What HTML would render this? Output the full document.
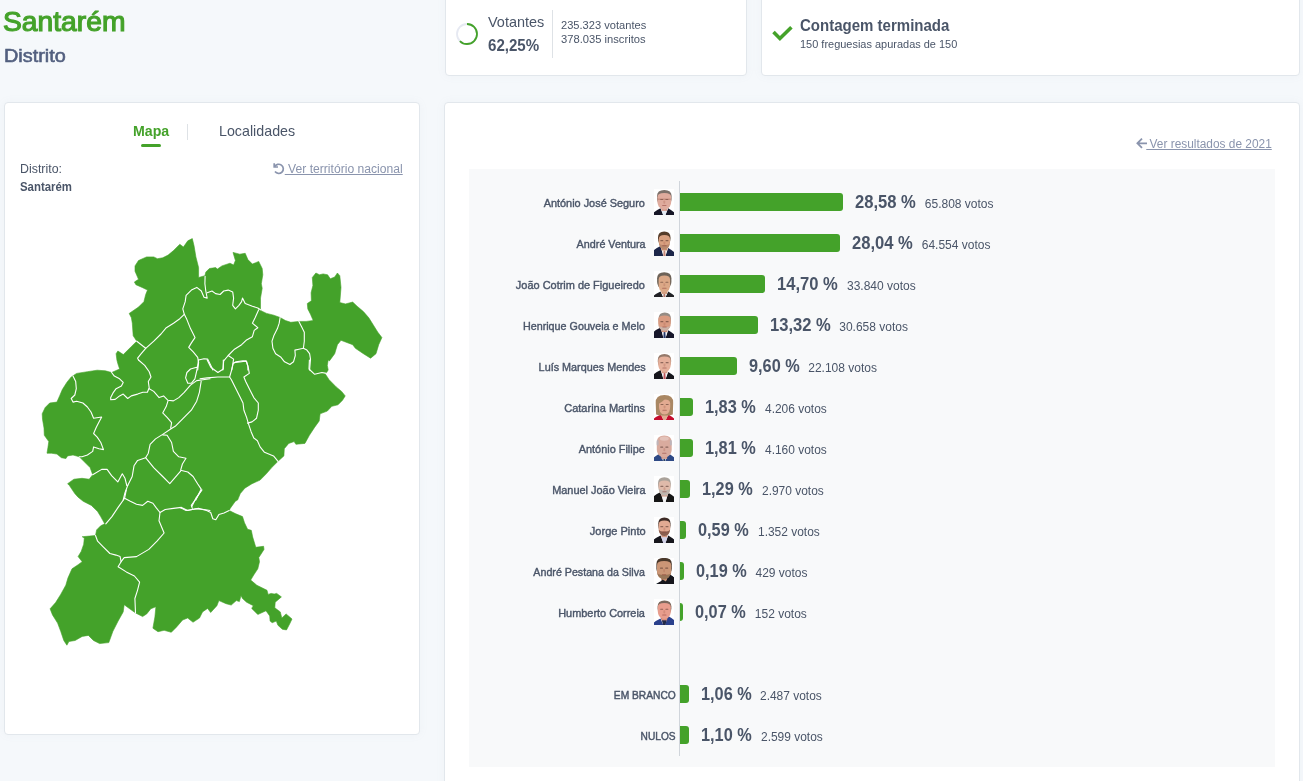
<!DOCTYPE html>
<html lang="pt"><head><meta charset="utf-8"><title>Santarém - Resultados</title>
<style>
html,body{margin:0;padding:0}
body{width:1303px;height:781px;overflow:hidden;position:relative;background:#f5f8fb;font-family:"Liberation Sans",sans-serif;}
.t{position:absolute;white-space:nowrap;display:inline-block}
.card{position:absolute;box-sizing:border-box;background:#fff;border:1px solid #e2e7ec;border-radius:4px;box-shadow:0 0 10px rgba(136,152,170,.06)}
.bar{position:absolute;left:680px;height:18px;background:#44a22a;border-radius:0 3px 3px 0}
</style></head><body>
<span class="t" style="top:3.94px;font-size:27.6px;line-height:36px;color:#44a22a;-webkit-text-stroke:1.15px #44a22a;left:2.80px;transform-origin:0 50%;transform:scaleX(1.0237);">Santarém</span>
<span class="t" style="top:43.79px;font-size:18.5px;line-height:24px;color:#525f7f;-webkit-text-stroke:0.6px #525f7f;left:3.80px;transform-origin:0 50%;transform:scaleX(1.0719);">Distrito</span>
<div class="card" style="left:445px;top:-20px;width:302px;height:96px"></div>
<div class="card" style="left:761px;top:-20px;width:539px;height:96px"></div>
<svg style="position:absolute;left:455px;top:22px" width="24" height="24" viewBox="0 0 24 24"><circle cx="12" cy="12" r="10" fill="none" stroke="#e6e9f2" stroke-width="1.8"/><circle cx="12" cy="12" r="10" fill="none" stroke="#44a22a" stroke-width="1.8" stroke-dasharray="39.1 62.83" transform="rotate(-90 12 12)"/></svg>
<span class="t" style="top:12.51px;font-size:14.4px;line-height:19px;color:#4a5568;left:488.00px;transform-origin:0 50%;transform:scaleX(1.0045);">Votantes</span>
<span class="t" style="top:35.69px;font-size:15.6px;line-height:20px;color:#4a5568;font-weight:700;left:488.00px;transform-origin:0 50%;transform:scaleX(0.9677);">62,25%</span>
<div style="position:absolute;left:552px;top:10px;width:1px;height:48px;background:#dee2e6"></div>
<span class="t" style="top:17.62px;font-size:11.2px;line-height:15px;color:#4a5568;left:561.00px;transform-origin:0 50%;transform:scaleX(0.9926);">235.323 votantes</span>
<span class="t" style="top:31.62px;font-size:11.2px;line-height:15px;color:#4a5568;left:561.00px;transform-origin:0 50%;">378.035 inscritos</span>
<svg style="position:absolute;left:772px;top:25px;overflow:visible" width="21" height="17" viewBox="0 0 21 17"><path d="M1.5 7.1 L7.9 13.5 L19.4 2.2" fill="none" stroke="#44a22a" stroke-width="3.6" stroke-linejoin="miter"/></svg>
<span class="t" style="top:15.16px;font-size:16px;line-height:21px;color:#4a5568;font-weight:700;left:800.00px;transform-origin:0 50%;transform:scaleX(0.9388);">Contagem terminada</span>
<span class="t" style="top:37.22px;font-size:11.2px;line-height:15px;color:#4a5568;left:800.00px;transform-origin:0 50%;transform:scaleX(0.9803);">150 freguesias apuradas de 150</span>
<div class="card" style="left:4px;top:102px;width:416px;height:633px"></div>
<span class="t" style="top:121.61px;font-size:14.4px;line-height:19px;color:#44a22a;font-weight:700;left:133.00px;transform-origin:0 50%;transform:scaleX(0.9834);">Mapa</span>
<div style="position:absolute;left:141px;top:144px;width:20px;height:3px;border-radius:2px;background:#44a22a"></div>
<div style="position:absolute;left:187px;top:124px;width:1px;height:16px;background:#dee2e6"></div>
<span class="t" style="top:121.61px;font-size:14.4px;line-height:19px;color:#4a5568;left:219.00px;transform-origin:0 50%;transform:scaleX(0.9914);">Localidades</span>
<span class="t" style="top:160.74px;font-size:12px;line-height:16px;color:#4a5568;left:20.00px;transform-origin:0 50%;transform:scaleX(1.0327);">Distrito:</span>
<span class="t" style="top:178.84px;font-size:12px;line-height:16px;color:#4a5568;font-weight:700;left:20.00px;transform-origin:0 50%;transform:scaleX(0.9508);">Santarém</span>
<svg style="position:absolute;left:272px;top:162px" width="13" height="13" viewBox="0 0 13 13"><path d="M2.2 1.2 L2.2 5 L6 5" fill="none" stroke="#8a94ad" stroke-width="1.7"/><path d="M2.6 4.8 A4.6 4.6 0 1 1 3 9.6" fill="none" stroke="#8a94ad" stroke-width="1.7"/></svg>
<span class="t" style="top:160.74px;font-size:12px;line-height:16px;color:#8a94ad;right:900.20px;transform-origin:100% 50%;transform:scaleX(1.0109);text-decoration:underline;">&nbsp;Ver território nacional</span>
<svg style="position:absolute;left:0;top:0" width="440" height="700" viewBox="0 0 440 700">
<path d="M116.1 353.7 L117.9 351 L123.3 354.6 L131.4 346.5 L136.8 341.2 L133.2 335.8 L132.3 323.2 L131.4 317.8 L129.2 313.4 L138.5 307.1 L143.9 301.7 L145.7 294.5 L147.5 290.1 L142.1 287.4 L135.9 284.7 L134.4 282 L138.5 279.3 L135 271.2 L135 265.9 L138.5 260.5 L146.6 256.9 L153.8 256.9 L157.4 258.7 L162.7 257.8 L168.1 255.1 L173.5 250.6 L179.8 244.3 L183.4 247 L187.8 240.8 L192.3 238.6 L194.1 246.1 L195.9 256.9 L198.6 267.6 L198.6 277.5 L204.9 275.7 L205.8 272.1 L209.4 268.5 L215.6 267.6 L217.4 269.1 L221.9 265.9 L230 263.2 L233.6 265 L235.4 260.5 L233 252.4 L239.8 254.2 L245.2 253.3 L247.9 259.6 L252.4 264.1 L258.7 261.4 L262.2 268.5 L262.8 274.8 L261.3 283.8 L262.2 288.3 L260.5 298.1 L260.5 308.9 L260.9 310.7 L266.6 313.4 L273.8 315.2 L280.1 317.5 L285.4 320.5 L290.8 322.3 L298.9 321.4 L306.1 321.4 L313.2 320.5 L310.5 314.3 L307.8 308.9 L307.3 303.5 L311.4 300.8 L311.1 292.7 L312.9 285.6 L312.3 277.5 L315.9 273 L319.5 274.8 L323.1 273.9 L327.6 274.8 L330.3 278.8 L334.7 277 L337.4 273 L339.8 275.7 L341 287.4 L339.8 302.6 L345.5 303.9 L352.7 302.1 L357.1 306.2 L363.4 311.6 L368.8 317.8 L373.3 325 L377.8 332.2 L381.9 337.6 L378.7 344.7 L376 353.7 L370.6 358.2 L363.4 353.7 L355.4 348.3 L352.7 344.7 L345.5 342 L341 340.3 L337.4 344.7 L334.7 353.7 L329.4 360.9 L328.2 360 L327.3 365.4 L328.2 369.9 L325.5 374.3 L329.1 379.7 L336.2 386.9 L341.6 391.4 L345.2 395.9 L342.5 400.3 L338 404.8 L331.8 406.3 L327.3 411.1 L320.1 413.8 L319.2 421 L314.7 427.2 L309.4 435.3 L304.9 443.4 L295.9 444.3 L294.1 441.6 L288.7 443.4 L284.3 448.7 L283.9 455.9 L278 461.3 L271.7 467.6 L266.3 473.8 L260.1 480.1 L252 483.7 L244.8 488.2 L240.3 493.6 L237.6 500 L235.3 501.3 L230.2 508.4 L229.2 510.5 L235.3 513.6 L242.5 516.6 L244.5 522.8 L247.6 529.3 L251.3 530.3 L252.7 537.1 L255.8 547.3 L263.6 546.3 L264 549.4 L258.8 557.6 L259.5 561.7 L257.8 568.8 L253.7 575 L250.7 580.1 L256.8 585.2 L267 590.3 L268.1 594.4 L271.1 593.4 L274.2 594 L276.7 593.4 L281.4 596.9 L275.2 602.2 L274.8 607.8 L280.3 611.9 L281.8 618 L286.1 613.9 L292 619 L289.6 624.1 L286.5 629.9 L282.4 629.3 L277.9 625.2 L276.3 621.1 L272.2 622.7 L270.1 621.1 L269.7 615.9 L266 610.8 L257.8 614.5 L251.7 608.4 L253.3 605.7 L246.6 602.2 L242.5 598.5 L241 595.5 L239.4 601.6 L236.3 600.6 L231.2 605.1 L226.1 603.7 L218.9 600.6 L216.9 605.7 L210.7 612.5 L207.6 608.4 L202.5 611.9 L199.5 618 L193.3 622.1 L192.8 622.1 L187.7 618 L182.6 620 L176.4 627.2 L171.3 632.3 L164.1 630.3 L158 631.7 L152.9 628.2 L154.9 617 L155.9 606.7 L150.8 608.8 L146.7 613.9 L142.6 616.6 L135.5 612.9 L128.3 607.8 L124.2 604.7 L123.2 611.9 L118.1 621.1 L112.9 631.3 L108.8 642.6 L99.6 643.6 L93.5 640.5 L88.4 635.4 L82.2 636.4 L75.1 640.5 L68.9 641.5 L66.9 645.2 L63.8 640.5 L60.7 631.3 L57.6 623.1 L52.5 614.9 L50.1 608.8 L55.6 602.6 L60.7 594.4 L65.8 585.2 L67.9 578.1 L72 568.8 L78.1 564.7 L82.2 561.7 L78.1 556.6 L81.2 551.4 L83.7 544.3 L84.3 538.1 L82.2 536.7 L89.4 536.1 L95.5 535.5 L96.6 529.9 L100.7 525.8 L104.7 523.8 L100.7 516.6 L97.6 511.5 L91.4 505.4 L83.2 501.3 L78.1 497.2 L74.8 493.6 L69.4 485.5 L67.6 483.7 L73.9 479.2 L82 478.3 L89.2 479.2 L92.7 474.7 L90.1 467.6 L83.8 461.3 L79.3 456.8 L73 455 L67.6 455.9 L65.9 458.6 L61.4 457.7 L56.9 454.1 L51.5 453.2 L47 453.2 L47.9 447.8 L48.8 441.6 L44.3 435.3 L44 428.1 L42.5 419.2 L42.2 413.8 L45.2 407.5 L49.7 403 L56.9 402.1 L59.6 395.9 L62.3 389.6 L66.8 382.4 L71.2 377 L76.6 373.4 L87.4 371.7 L97.2 370.2 L105.3 370.8 L111.6 372.5 L119.6 369 L117.8 363.6 L116.9 360 Z" fill="#44a22a" stroke="#44a22a" stroke-width="0.6" stroke-linejoin="round"/>
<g fill="none" stroke="#fff" stroke-width="1.1" stroke-linejoin="round" stroke-linecap="round">
<path d="M136.8 341.2 L145.7 348.3 L153.8 341.2 L161 334 L166.3 327.7 L173.5 323.2 L179.8 318.7 L184.3 314.3 L182.8 308.9 L185.2 301.7 L186.1 295.4 L191.4 290.1 L196.8 287.4 L201.3 291 L204 297.2 L207.2 298.1 L205.8 291 L204.9 283.8 L205.1 276.3"/>
<path d="M145.7 348.3 L141.2 353.7 L137.6 358.2 L138.5 360"/>
<path d="M207.2 292.7 L212 291 L215.6 293.6 L220.1 294.5 L223.7 291 L228.2 290.1 L232.7 291.9 L233.6 298.1 L232.7 305.3 L235.4 308.9 L238.9 305.3 L241.6 301.7 L242.5 298.1 L245.2 303.5 L252.4 306.2 L257.8 308 L260.5 309.8"/>
<path d="M258.7 309.8 L255.1 317.8 L252.4 323.2 L257.8 327.7 L254.2 330.4 L252.4 336.7 L246.1 340.3 L241.6 344.7 L234.5 349.2 L228.2 355.5 L223.7 360.9 L222.8 370"/>
<path d="M184.3 314.3 L186.9 319.6 L190.5 328.6 L195 337.6 L191.4 342.9 L188.7 347.4 L193.2 351.9 L197.7 357.3 L198.6 362.7 L197.7 370"/>
<path d="M198.6 360 L204 358.7 L207.6 359.1 L211.2 366.2 L212.9 370"/>
<path d="M228.2 355.5 L233.6 359.1 L232.7 364.5 L231.8 370"/>
<path d="M233.6 362.7 L241.6 361.8 L246.1 360.9 L247.9 366.2 L247.9 370"/>
<path d="M280.1 317.5 L279.2 323.2 L277.4 328.6 L273.8 335.8 L272 341.2 L272.9 348.3 L275.6 353.7 L281 357.3 L284.5 361.8 L289.9 364.5 L293.5 361.8 L295.3 355.5 L294.9 350.1 L298.9 349.2 L303.4 348.3"/>
<path d="M298.9 321.4 L301.6 326.8 L304.3 332.2 L304.3 341.2 L303.4 348.3 L306.9 350.1 L309.6 353.7 L310.5 359.1 L309.6 370"/>
<path d="M73 376.1 L75.7 381.5 L76.3 388.7 L74.8 395 L71.2 398.5 L73 402.1 L76.6 401.2 L82.9 403 L87.4 407 L91 412 L93.6 418.3 L101.7 417 L99 421.9 L96.3 427.2 L93.6 433.5 L97.2 437.1 L100.8 442.5 L103.5 449.6 L99 448.7 L93.6 446.9 L92.7 451.4 L87.4 455 L82 456.8 L79.3 456.8"/>
<path d="M111.6 372.5 L114.3 376.1 L119.6 378.8 L123.2 382.4 L121.4 386 L116.1 388.7 L113.4 392.3 L110.7 397.6 L110.7 399.8 L115.2 399.4 L119.6 395.9 L123.2 394.1 L127.7 398.5 L131.3 395.9 L137.6 394.1 L142.9 392.3 L147.4 392.3 L149.2 387.8 L148.3 381.5 L151 377 L149.2 371.7 L144.7 365.4 L138.5 360"/>
<path d="M149.2 388.7 L153.7 391.4 L159.1 397.6 L163.6 395.9 L168 400.3 L173.4 400.9 L178.8 397.6 L184.2 392.3 L190.5 385.1 L196.7 380.6 L203 379.7 L210 378.8"/>
<path d="M168 400.9 L166.2 406.6 L162.7 412.9 L167.1 417.4 L171.6 422.7 L170.7 428.1"/>
<path d="M201.2 381.2 L199.4 392.3 L196.7 401.2 L191.3 410.2 L182.4 419.2 L175.2 426.3 L170.7 429 L162.7 434.4 L155.5 438.9 L150.1 444.3 L148.3 453.2 L145.6 457.7 L137.6 460.4 L134 465.8 L132.2 476.5 L127.7 485.5 L125 492.7 L123.2 500"/>
<path d="M196.7 367.2 L190.5 369 L186.9 372.5 L185.6 377.9 L187.8 383.3 L191.3 383.3 L194.9 378.8 L196.7 370.8 L197.6 366.3 L198.5 360"/>
<path d="M162.7 434.9 L167.1 435.3 L171.6 442.5 L173.4 451.4 L178.8 456.8 L186 458.2 L182.4 464 L180.6 470.3 L187.8 472 L193.1 476.5 L197.6 483.7 L201.2 489.1 L198.5 494.5 L195.8 500"/>
<path d="M145.6 457.7 L153.7 467.6 L162.7 476.5 L169.8 483.7 L175.2 477.4 L180.6 471.2"/>
<path d="M92.7 474.7 L101.7 469.4 L107.1 469.4 L111.6 475.6 L117.8 481.9 L122.3 473.8 L125 478.3 L126.8 485.5 L127.7 485.5"/>
<path d="M200 378.8 L207.2 377.9 L217.9 377 L229.6 377 L231.4 379.7 L235.9 388.7 L240.3 397.6 L243 403 L243.9 410.2 L246.6 417.4 L248.4 423.6 L251.1 431.7 L253.8 438 L257.4 440.7 L260.1 446.9 L264.5 452.3 L273.5 455.9 L278 461.3"/>
<path d="M229.6 377 L231.4 370.8 L233.2 363.6 L235.9 361.8 L243 360.9 L246.6 361.4 L248.4 368.1 L249.3 373.4 L243.9 377 L245.7 381.5 L250.2 390.5 L253.8 397.6 L258.3 403 L258.3 410.2 L256.5 418.3 L252 421.9 L247.5 423.1"/>
<path d="M207.2 360 L210.8 367.2 L217.9 372.5 L223.3 369 L223.3 360"/>
<path d="M309.4 360 L309 369 L314.7 374.3 L321.9 372.5 L326.4 373.4"/>
<path d="M126.3 490 L124.6 498.2 L118.1 507.4 L111.9 516.6 L105.8 523.8"/>
<path d="M124.6 498.2 L130.3 501.3 L136.5 504.3 L142.6 505.4 L147.8 501.3 L152.9 503.3 L155.9 507.4 L160 512.5 L165.2 509.5 L173.4 508.4 L181.5 507.4 L187.7 510.5 L195.9 508.8 L204.1 509.5 L210 510.5"/>
<path d="M160 512.5 L159 520.7 L164.1 533 L157 541.2 L148.8 549.4 L136.5 556.6 L124.2 557.6 L121.1 561.7 L118.1 566.8 L126.3 571.9 L134.4 576 L139.6 582.2 L137.5 590.3 L134.9 598.5 L135.5 612.9"/>
<path d="M95.5 535.5 L97.6 541.2 L102.7 546.3 L109.9 553.5 L116 555.1 L120.1 556.6 L121.1 561.7"/>
<path d="M191.8 506.4 L195.9 498.2 L202 490"/>
<path d="M180 507.4 L186.1 510.5 L192.3 509.5 L198.4 508.4 L206.6 510.5 L210.7 512.5 L212.8 518.7 L215.8 519.7 L218.9 514.6 L224 512.9 L229.2 510.5"/>
<path d="M201.5 490 L196.4 498.2 L191.3 505.4 L192.3 508.4"/>
</g></svg>
<svg width="0" height="0" style="position:absolute"><defs><filter id="pb" x="-10%" y="-10%" width="120%" height="120%"><feGaussianBlur stdDeviation="0.55"/></filter></defs></svg>
<div class="card" style="left:444px;top:102px;width:856px;height:720px"></div>
<div style="position:absolute;left:469px;top:169px;width:806px;height:598px;background:#f8f9fa"></div>
<span class="t" style="top:135.54px;font-size:12px;line-height:16px;color:#8a94ad;right:31.00px;transform-origin:100% 50%;transform:scaleX(0.9901);text-decoration:underline;">&nbsp;Ver resultados de 2021</span>
<svg style="position:absolute;left:1136px;top:138px" width="12" height="11" viewBox="0 0 12 11"><path d="M11 5.3 H1.8 M6 0.7 L1.4 5.3 L6 9.9" fill="none" stroke="#8a94ad" stroke-width="1.8"/></svg>
<div style="position:absolute;left:679px;top:181px;width:1px;height:575px;background:#d0d5db"></div>
<div class="bar" style="top:193px;width:163.1px"></div>
<span class="t" style="top:191.00px;font-size:17.6px;line-height:23px;color:#4a5568;font-weight:700;left:855.15px;transform-origin:0 50%;transform:scaleX(0.9420);">28,58 %</span>
<span class="t" style="top:195.54px;font-size:12px;line-height:16px;color:#4a5568;left:924.79px;transform-origin:0 50%;">65.808 votos</span>
<span class="t" style="top:195.62px;font-size:11.2px;line-height:15px;color:#4a5568;-webkit-text-stroke:0.4px #4a5568;right:657.80px;transform-origin:100% 50%;transform:scaleX(0.9742);">António José Seguro</span>
<svg style="position:absolute;left:654px;top:189px;overflow:hidden" width="20" height="26" viewBox="0 0 20 26"><rect width="20" height="26" fill="#fff"/><g filter="url(#pb)"><path d="M-1 27 L-1 24.0 Q2.5 21.0 6.499999999999999 19.200000000000003 L9.7 27 L10.899999999999999 27 L14.099999999999998 19.200000000000003 Q17.5 21.0 21 24.0 L21 27 Z" fill="#141626"/><path d="M6.699999999999999 19.400000000000002 L13.899999999999999 19.400000000000002 L11.2 27 L9.399999999999999 27 Z" fill="#e4ebf4"/><rect x="7.499999999999999" y="16.1" width="5.6" height="5.8" fill="#dfab9d"/><rect x="7.499999999999999" y="19.8" width="5.6" height="1.6" fill="#b06a55" opacity=".35"/><path d="M3.0 7.0 Q3.0 1.0 10.3 1.0 Q17.6 1.0 17.6 7.0 L17.6 10.100000000000001 Q17.3 15.100000000000001 12.9 17.200000000000003 Q10.3 18.1 7.700000000000001 17.200000000000003 Q3.3 15.100000000000001 3.0 10.100000000000001 Z" fill="#7b6f69"/><path d="M3.4 8.2 Q3.4 4.0 10.299999999999999 4.0 Q17.2 4.0 17.2 8.2 L17.2 13.100000000000001 Q16.9 18.1 12.899999999999999 20.200000000000003 Q10.299999999999999 21.1 7.699999999999999 20.200000000000003 Q3.6999999999999997 18.1 3.4 13.100000000000001 Z" fill="#dfab9d"/><rect x="6.199999999999999" y="9.975999999999999" width="3.0" height="1.1" rx=".5" fill="#4a2e26" opacity=".55"/><rect x="11.399999999999999" y="9.975999999999999" width="3.0" height="1.1" rx=".5" fill="#4a2e26" opacity=".55"/><rect x="9.399999999999999" y="11.475999999999999" width="1.8" height="3.2" rx=".8" fill="#b06a55" opacity=".35"/><rect x="8.099999999999998" y="15.952" width="4.4" height="1.0" rx=".5" fill="#8a3a34" opacity=".5"/><path d="M3.6999999999999997 10.175999999999998 H16.9" stroke="#9a5a48" stroke-width=".7" opacity=".7" fill="none"/></g></svg>
<div class="bar" style="top:234px;width:160.1px"></div>
<span class="t" style="top:232.00px;font-size:17.6px;line-height:23px;color:#4a5568;font-weight:700;left:852.12px;transform-origin:0 50%;transform:scaleX(0.9420);">28,04 %</span>
<span class="t" style="top:236.54px;font-size:12px;line-height:16px;color:#4a5568;left:921.76px;transform-origin:0 50%;">64.554 votos</span>
<span class="t" style="top:236.62px;font-size:11.2px;line-height:15px;color:#4a5568;-webkit-text-stroke:0.4px #4a5568;right:657.80px;transform-origin:100% 50%;transform:scaleX(0.9635);">André Ventura</span>
<svg style="position:absolute;left:654px;top:230px;overflow:hidden" width="20" height="26" viewBox="0 0 20 26"><rect width="20" height="26" fill="#fff"/><g filter="url(#pb)"><path d="M-1 27 L-1 20.799999999999997 Q2.5 17.799999999999997 6.6000000000000005 15.999999999999998 L9.8 27 L11.0 27 L14.2 18.0 Q17.5 19.799999999999997 21 22.799999999999997 L21 27 Z" fill="#1f2548"/><path d="M6.800000000000001 16.2 L14.0 16.2 L11.3 27 L9.5 27 Z" fill="#f6f3f0"/><path d="M9.6 20.4 L11.200000000000001 20.4 L11.700000000000001 27 L9.3 27 Z" fill="#c98a7a"/><rect x="7.6000000000000005" y="14.7" width="5.6" height="5.8" fill="#d9a07f"/><rect x="7.6000000000000005" y="18.4" width="5.6" height="1.6" fill="#b06a55" opacity=".35"/><path d="M4.0 7.5 Q4.0 1.5 10.25 1.5 Q16.5 1.5 16.5 7.5 L16.5 8.7 Q16.2 13.7 12.85 15.799999999999999 Q10.25 16.7 7.65 15.799999999999999 Q4.3 13.7 4.0 8.7 Z" fill="#573d2b"/><path d="M4.8 9.100000000000001 Q4.8 4.9 10.4 4.9 Q16.0 4.9 16.0 9.100000000000001 L16.0 11.7 Q15.7 16.7 13.0 18.8 Q10.4 19.7 7.800000000000001 18.8 Q5.1 16.7 4.8 11.7 Z" fill="#d9a07f"/><path d="M4.8 13.1 L6.4 14.6 Q10.4 15.799999999999999 14.4 14.6 L16.0 13.1 L16.0 11.7 Q15.7 16.7 13.0 18.8 Q10.4 19.7 7.800000000000001 18.8 Q5.1 16.7 4.8 11.7 Z" fill="#b98a6e"/><rect x="6.300000000000001" y="10.048" width="3.0" height="1.1" rx=".5" fill="#4a2e26" opacity=".55"/><rect x="11.5" y="10.048" width="3.0" height="1.1" rx=".5" fill="#4a2e26" opacity=".55"/><rect x="9.5" y="11.548" width="1.8" height="3.2" rx=".8" fill="#b06a55" opacity=".35"/><rect x="8.2" y="15.196" width="4.4" height="1.0" rx=".5" fill="#8a3a34" opacity=".5"/></g></svg>
<div class="bar" style="top:275px;width:85.3px"></div>
<span class="t" style="top:273.00px;font-size:17.6px;line-height:23px;color:#4a5568;font-weight:700;left:777.32px;transform-origin:0 50%;transform:scaleX(0.9420);">14,70 %</span>
<span class="t" style="top:277.54px;font-size:12px;line-height:16px;color:#4a5568;left:846.96px;transform-origin:0 50%;">33.840 votos</span>
<span class="t" style="top:277.62px;font-size:11.2px;line-height:15px;color:#4a5568;-webkit-text-stroke:0.4px #4a5568;right:657.80px;transform-origin:100% 50%;transform:scaleX(0.9782);">João Cotrim de Figueiredo</span>
<svg style="position:absolute;left:654px;top:271px;overflow:hidden" width="20" height="26" viewBox="0 0 20 26"><rect width="20" height="26" fill="#fff"/><g filter="url(#pb)"><path d="M-1 27 L-1 25.2 Q2.5 22.2 6.550000000000002 20.400000000000002 L9.750000000000002 27 L10.950000000000001 27 L14.150000000000002 20.400000000000002 Q17.5 22.2 21 25.2 L21 27 Z" fill="#202327"/><path d="M6.750000000000002 20.6 L13.950000000000001 20.6 L11.250000000000002 27 L9.450000000000001 27 Z" fill="#f5f5f3"/><path d="M9.55 22.8 L11.150000000000002 22.8 L11.650000000000002 27 L9.250000000000002 27 Z" fill="#b5786a"/><rect x="7.550000000000002" y="17.1" width="5.6" height="5.8" fill="#dba887"/><rect x="7.550000000000002" y="20.8" width="5.6" height="1.6" fill="#b06a55" opacity=".35"/><path d="M3.1 7.3 Q3.1 1.3 10.25 1.3 Q17.4 1.3 17.4 7.3 L17.4 11.100000000000001 Q17.099999999999998 16.1 12.85 18.200000000000003 Q10.25 19.1 7.65 18.200000000000003 Q3.4 16.1 3.1 11.100000000000001 Z" fill="#6e6459"/><path d="M4.6 8.7 Q4.6 4.5 10.350000000000001 4.5 Q16.1 4.5 16.1 8.7 L16.1 14.100000000000001 Q15.8 19.1 12.950000000000001 21.200000000000003 Q10.350000000000001 22.1 7.750000000000002 21.200000000000003 Q4.8999999999999995 19.1 4.6 14.100000000000001 Z" fill="#dba887"/><rect x="6.250000000000002" y="10.656" width="3.0" height="1.1" rx=".5" fill="#4a2e26" opacity=".55"/><rect x="11.450000000000001" y="10.656" width="3.0" height="1.1" rx=".5" fill="#4a2e26" opacity=".55"/><rect x="9.450000000000001" y="12.156" width="1.8" height="3.2" rx=".8" fill="#b06a55" opacity=".35"/><rect x="8.150000000000002" y="16.812" width="4.4" height="1.0" rx=".5" fill="#8a3a34" opacity=".5"/></g></svg>
<div class="bar" style="top:316px;width:77.6px"></div>
<span class="t" style="top:314.00px;font-size:17.6px;line-height:23px;color:#4a5568;font-weight:700;left:769.59px;transform-origin:0 50%;transform:scaleX(0.9420);">13,32 %</span>
<span class="t" style="top:318.54px;font-size:12px;line-height:16px;color:#4a5568;left:839.22px;transform-origin:0 50%;">30.658 votos</span>
<span class="t" style="top:318.62px;font-size:11.2px;line-height:15px;color:#4a5568;-webkit-text-stroke:0.4px #4a5568;right:657.80px;transform-origin:100% 50%;transform:scaleX(0.9613);">Henrique Gouveia e Melo</span>
<svg style="position:absolute;left:654px;top:312px;overflow:hidden" width="20" height="26" viewBox="0 0 20 26"><rect width="20" height="26" fill="#fff"/><g filter="url(#pb)"><path d="M-1 27 L-1 20.4 Q2.5 17.4 6.7 15.6 L9.9 27 L11.1 27 L14.3 18.200000000000003 Q17.5 20.0 21 23.0 L21 27 Z" fill="#15172a"/><path d="M6.9 15.8 L14.1 15.8 L11.4 27 L9.6 27 Z" fill="#f4f5f9"/><path d="M9.7 20.0 L11.3 20.0 L11.8 27 L9.4 27 Z" fill="#27386b"/><rect x="7.7" y="14.3" width="5.6" height="5.8" fill="#d99b81"/><rect x="7.7" y="18.0" width="5.6" height="1.6" fill="#b06a55" opacity=".35"/><path d="M4.6 6.4 Q4.6 0.4 10.75 0.4 Q16.9 0.4 16.9 6.4 L16.9 8.3 Q16.599999999999998 13.3 13.35 15.4 Q10.75 16.3 8.15 15.4 Q4.8999999999999995 13.3 4.6 8.3 Z" fill="#958c85"/><path d="M4.2 7.800000000000001 Q4.2 3.6 10.5 3.6 Q16.8 3.6 16.8 7.800000000000001 L16.8 11.3 Q16.5 16.3 13.1 18.400000000000002 Q10.5 19.3 7.9 18.400000000000002 Q4.5 16.3 4.2 11.3 Z" fill="#d99b81"/><path d="M4.2 13.1 L5.800000000000001 14.6 Q10.5 15.799999999999999 15.200000000000001 14.6 L16.8 13.1 L16.8 11.3 Q16.5 16.3 13.1 18.400000000000002 Q10.5 19.3 7.9 18.400000000000002 Q4.5 16.3 4.2 11.3 Z" fill="#cbb2a6"/><rect x="6.4" y="9.072000000000001" width="3.0" height="1.1" rx=".5" fill="#4a2e26" opacity=".55"/><rect x="11.6" y="9.072000000000001" width="3.0" height="1.1" rx=".5" fill="#4a2e26" opacity=".55"/><rect x="9.6" y="10.572000000000001" width="1.8" height="3.2" rx=".8" fill="#b06a55" opacity=".35"/><rect x="8.3" y="14.544" width="4.4" height="1.0" rx=".5" fill="#8a3a34" opacity=".5"/></g></svg>
<div class="bar" style="top:357px;width:56.7px"></div>
<span class="t" style="top:355.00px;font-size:17.6px;line-height:23px;color:#4a5568;font-weight:700;left:748.73px;transform-origin:0 50%;transform:scaleX(0.9261);">9,60 %</span>
<span class="t" style="top:359.54px;font-size:12px;line-height:16px;color:#4a5568;left:808.27px;transform-origin:0 50%;">22.108 votos</span>
<span class="t" style="top:359.62px;font-size:11.2px;line-height:15px;color:#4a5568;-webkit-text-stroke:0.4px #4a5568;right:657.80px;transform-origin:100% 50%;transform:scaleX(0.9674);">Luís Marques Mendes</span>
<svg style="position:absolute;left:654px;top:353px;overflow:hidden" width="20" height="26" viewBox="0 0 20 26"><rect width="20" height="26" fill="#fff"/><g filter="url(#pb)"><path d="M-1 27 L-1 21.799999999999997 Q2.5 18.799999999999997 6.7 17.0 L9.9 27 L11.1 27 L14.3 19.0 Q17.5 20.799999999999997 21 23.799999999999997 L21 27 Z" fill="#14161b"/><path d="M6.9 17.2 L14.1 17.2 L11.4 27 L9.6 27 Z" fill="#f5f5f5"/><path d="M9.7 20.099999999999998 L11.3 20.099999999999998 L11.8 27 L9.4 27 Z" fill="#c0545a"/><rect x="7.7" y="14.399999999999999" width="5.6" height="5.8" fill="#e5b09b"/><rect x="7.7" y="18.099999999999998" width="5.6" height="1.6" fill="#b06a55" opacity=".35"/><path d="M3.8 7.1 Q3.8 1.1 10.450000000000001 1.1 Q17.1 1.1 17.1 7.1 L17.1 8.399999999999999 Q16.8 13.399999999999999 13.05 15.499999999999998 Q10.450000000000001 16.4 7.850000000000001 15.499999999999998 Q4.1 13.399999999999999 3.8 8.399999999999999 Z" fill="#94796a"/><path d="M4.2 7.7 Q4.2 3.5 10.5 3.5 Q16.8 3.5 16.8 7.7 L16.8 11.399999999999999 Q16.5 16.4 13.1 18.5 Q10.5 19.4 7.9 18.5 Q4.5 16.4 4.2 11.399999999999999 Z" fill="#e5b09b"/><rect x="6.4" y="9.043999999999999" width="3.0" height="1.1" rx=".5" fill="#4a2e26" opacity=".55"/><rect x="11.6" y="9.043999999999999" width="3.0" height="1.1" rx=".5" fill="#4a2e26" opacity=".55"/><rect x="9.6" y="10.543999999999999" width="1.8" height="3.2" rx=".8" fill="#b06a55" opacity=".35"/><rect x="8.3" y="14.587999999999997" width="4.4" height="1.0" rx=".5" fill="#8a3a34" opacity=".5"/></g></svg>
<div class="bar" style="top:398px;width:13.2px"></div>
<span class="t" style="top:396.00px;font-size:17.6px;line-height:23px;color:#4a5568;font-weight:700;left:705.16px;transform-origin:0 50%;transform:scaleX(0.9261);">1,83 %</span>
<span class="t" style="top:400.54px;font-size:12px;line-height:16px;color:#4a5568;left:764.70px;transform-origin:0 50%;transform:scaleX(0.9959);">4.206 votos</span>
<span class="t" style="top:400.62px;font-size:11.2px;line-height:15px;color:#4a5568;-webkit-text-stroke:0.4px #4a5568;right:657.80px;transform-origin:100% 50%;transform:scaleX(0.9858);">Catarina Martins</span>
<svg style="position:absolute;left:654px;top:394px;overflow:hidden" width="20" height="26" viewBox="0 0 20 26"><rect width="20" height="26" fill="#fff"/><g filter="url(#pb)"><path d="M-1 27 L-1 25.2 Q2.5 22.2 6.8 20.400000000000002 L10.0 27 L11.2 27 L14.399999999999999 20.400000000000002 Q17.5 22.2 21 25.2 L21 27 Z" fill="#c60f2e"/><path d="M7.0 20.6 L14.2 20.6 L11.5 27 L9.7 27 Z" fill="#e2aa91"/><rect x="7.8" y="15.899999999999999" width="5.6" height="5.8" fill="#e2aa91"/><rect x="7.8" y="19.599999999999998" width="5.6" height="1.6" fill="#b06a55" opacity=".35"/><path d="M1.7 9.0 Q1.4 1.0 10.45 1.0 Q19.5 1.0 19.2 9.0 L18.8 20.599999999999998 L15.2 21.4 L5.7 21.4 L2.1 20.599999999999998 Z" fill="#a98763"/><path d="M5.0 9.5 Q5.0 5.5 10.6 5.5 Q16.2 5.5 16.2 9.5 L16.2 12.899999999999999 Q15.899999999999999 17.9 13.2 20.0 Q10.6 20.9 8.0 20.0 Q5.3 17.9 5.0 12.899999999999999 Z" fill="#e2aa91"/><path d="M4.5 10.0 Q5.0 3.5 12.6 3.2 Q9.6 7.0 4.5 10.0 Z" fill="#a98763"/><rect x="6.5" y="9.904" width="3.0" height="1.1" rx=".5" fill="#4a2e26" opacity=".55"/><rect x="11.7" y="9.904" width="3.0" height="1.1" rx=".5" fill="#4a2e26" opacity=".55"/><rect x="9.7" y="11.404" width="1.8" height="3.2" rx=".8" fill="#b06a55" opacity=".35"/><rect x="8.399999999999999" y="15.807999999999998" width="4.4" height="1.0" rx=".5" fill="#8a3a34" opacity=".5"/></g></svg>
<div class="bar" style="top:439px;width:13.0px"></div>
<span class="t" style="top:437.00px;font-size:17.6px;line-height:23px;color:#4a5568;font-weight:700;left:705.05px;transform-origin:0 50%;transform:scaleX(0.9261);">1,81 %</span>
<span class="t" style="top:441.54px;font-size:12px;line-height:16px;color:#4a5568;left:764.59px;transform-origin:0 50%;transform:scaleX(0.9959);">4.160 votos</span>
<span class="t" style="top:441.62px;font-size:11.2px;line-height:15px;color:#4a5568;-webkit-text-stroke:0.4px #4a5568;right:657.80px;transform-origin:100% 50%;transform:scaleX(0.9740);">António Filipe</span>
<svg style="position:absolute;left:654px;top:435px;overflow:hidden" width="20" height="26" viewBox="0 0 20 26"><rect width="20" height="26" fill="#fff"/><g filter="url(#pb)"><path d="M-1 27 L-1 23.0 Q2.5 20.0 6.500000000000001 18.200000000000003 L9.700000000000001 27 L10.9 27 L14.100000000000001 18.200000000000003 Q17.5 20.0 21 23.0 L21 27 Z" fill="#2f4a85"/><path d="M6.700000000000001 18.400000000000002 L13.9 18.400000000000002 L11.200000000000001 27 L9.4 27 Z" fill="#dfe7f5"/><path d="M9.5 23.8 L11.100000000000001 23.8 L11.600000000000001 27 L9.200000000000001 27 Z" fill="#2a3f66"/><rect x="7.500000000000001" y="18.1" width="5.6" height="5.8" fill="#d9ab9e"/><rect x="7.500000000000001" y="21.8" width="5.6" height="1.6" fill="#b06a55" opacity=".35"/><path d="M2.8 6.9 Q2.8 0.4 10.25 0.4 Q17.7 0.4 17.7 6.9 L17.7 15.100000000000001 Q17.4 20.1 12.85 22.200000000000003 Q10.25 23.1 7.65 22.200000000000003 Q3.0999999999999996 20.1 2.8 15.100000000000001 Z" fill="#d9ab9e"/><rect x="2.5999999999999996" y="4.9" width="2.0" height="5.5" rx="1" fill="#b9b5bd" opacity=".85"/><rect x="15.899999999999999" y="4.9" width="2.0" height="5.5" rx="1" fill="#b9b5bd" opacity=".85"/><ellipse cx="10.3" cy="3.6" rx="4.5" ry="2.2" fill="#fff" opacity=".28"/><rect x="6.200000000000001" y="11.592000000000002" width="3.0" height="1.1" rx=".5" fill="#4a2e26" opacity=".55"/><rect x="11.4" y="11.592000000000002" width="3.0" height="1.1" rx=".5" fill="#4a2e26" opacity=".55"/><rect x="9.4" y="13.092000000000002" width="1.8" height="3.2" rx=".8" fill="#b06a55" opacity=".35"/><rect x="8.100000000000001" y="17.784000000000002" width="4.4" height="1.0" rx=".5" fill="#8a3a34" opacity=".5"/></g></svg>
<div class="bar" style="top:480px;width:10.1px"></div>
<span class="t" style="top:478.00px;font-size:17.6px;line-height:23px;color:#4a5568;font-weight:700;left:702.13px;transform-origin:0 50%;transform:scaleX(0.9261);">1,29 %</span>
<span class="t" style="top:482.54px;font-size:12px;line-height:16px;color:#4a5568;left:761.68px;transform-origin:0 50%;transform:scaleX(0.9959);">2.970 votos</span>
<span class="t" style="top:482.62px;font-size:11.2px;line-height:15px;color:#4a5568;-webkit-text-stroke:0.4px #4a5568;right:657.80px;transform-origin:100% 50%;transform:scaleX(0.9772);">Manuel João Vieira</span>
<svg style="position:absolute;left:654px;top:476px;overflow:hidden" width="20" height="26" viewBox="0 0 20 26"><rect width="20" height="26" fill="#fff"/><g filter="url(#pb)"><path d="M-1 27 L-1 20.799999999999997 Q2.5 17.799999999999997 6.7 15.999999999999998 L9.9 27 L11.1 27 L14.3 16.8 Q17.5 18.599999999999998 21 21.599999999999998 L21 27 Z" fill="#161619"/><path d="M6.9 16.2 L14.1 16.2 L11.4 27 L9.6 27 Z" fill="#f3f3f3"/><rect x="7.7" y="14.899999999999999" width="5.6" height="5.8" fill="#dfbaaa"/><rect x="7.7" y="18.599999999999998" width="5.6" height="1.6" fill="#b06a55" opacity=".35"/><path d="M4.0 7.3 Q4.0 1.3 10.4 1.3 Q16.8 1.3 16.8 7.3 L16.8 8.899999999999999 Q16.5 13.899999999999999 13.0 15.999999999999998 Q10.4 16.9 7.800000000000001 15.999999999999998 Q4.3 13.899999999999999 4.0 8.899999999999999 Z" fill="#aaa29a"/><path d="M4.6 8.7 Q4.6 4.5 10.5 4.5 Q16.4 4.5 16.4 8.7 L16.4 11.899999999999999 Q16.099999999999998 16.9 13.1 19.0 Q10.5 19.9 7.9 19.0 Q4.8999999999999995 16.9 4.6 11.899999999999999 Z" fill="#dfbaaa"/><path d="M4.6 12.3 L6.199999999999999 13.8 Q10.5 15.0 14.799999999999999 13.8 L16.4 12.3 L16.4 11.899999999999999 Q16.099999999999998 16.9 13.1 19.0 Q10.5 19.9 7.9 19.0 Q4.8999999999999995 16.9 4.6 11.899999999999999 Z" fill="#bdb5ae"/><rect x="6.4" y="9.863999999999999" width="3.0" height="1.1" rx=".5" fill="#4a2e26" opacity=".55"/><rect x="11.6" y="9.863999999999999" width="3.0" height="1.1" rx=".5" fill="#4a2e26" opacity=".55"/><rect x="9.6" y="11.363999999999999" width="1.8" height="3.2" rx=".8" fill="#b06a55" opacity=".35"/><rect x="8.3" y="15.227999999999998" width="4.4" height="1.0" rx=".5" fill="#8a3a34" opacity=".5"/></g></svg>
<div class="bar" style="top:521px;width:6.2px"></div>
<span class="t" style="top:519.00px;font-size:17.6px;line-height:23px;color:#4a5568;font-weight:700;left:698.21px;transform-origin:0 50%;transform:scaleX(0.9261);">0,59 %</span>
<span class="t" style="top:523.54px;font-size:12px;line-height:16px;color:#4a5568;left:757.75px;transform-origin:0 50%;transform:scaleX(0.9959);">1.352 votos</span>
<span class="t" style="top:523.62px;font-size:11.2px;line-height:15px;color:#4a5568;-webkit-text-stroke:0.4px #4a5568;right:657.80px;transform-origin:100% 50%;transform:scaleX(0.9849);">Jorge Pinto</span>
<svg style="position:absolute;left:654px;top:517px;overflow:hidden" width="20" height="26" viewBox="0 0 20 26"><rect width="20" height="26" fill="#fff"/><g filter="url(#pb)"><path d="M-1 27 L-1 23.2 Q2.5 20.2 6.599999999999999 18.400000000000002 L9.799999999999999 27 L10.999999999999998 27 L14.2 18.400000000000002 Q17.5 20.2 21 23.2 L21 27 Z" fill="#14141e"/><path d="M6.799999999999999 18.6 L13.999999999999998 18.6 L11.299999999999999 27 L9.499999999999998 27 Z" fill="#d2d2e8"/><rect x="7.599999999999999" y="14.399999999999999" width="5.6" height="5.8" fill="#e2aa92"/><rect x="7.599999999999999" y="18.099999999999998" width="5.6" height="1.6" fill="#b06a55" opacity=".35"/><path d="M4.3 6.6 Q4.3 0.6 10.4 0.6 Q16.5 0.6 16.5 6.6 L16.5 8.399999999999999 Q16.2 13.399999999999999 13.0 15.499999999999998 Q10.4 16.4 7.800000000000001 15.499999999999998 Q4.6 13.399999999999999 4.3 8.399999999999999 Z" fill="#3d2c25"/><path d="M4.6 7.800000000000001 Q4.6 3.6 10.399999999999999 3.6 Q16.2 3.6 16.2 7.800000000000001 L16.2 11.399999999999999 Q15.899999999999999 16.4 12.999999999999998 18.5 Q10.399999999999999 19.4 7.799999999999999 18.5 Q4.8999999999999995 16.4 4.6 11.399999999999999 Z" fill="#e2aa92"/><path d="M4.6 12.5 L6.199999999999999 14.0 Q10.399999999999999 15.2 14.6 14.0 L16.2 12.5 L16.2 11.399999999999999 Q15.899999999999999 16.4 12.999999999999998 18.5 Q10.399999999999999 19.4 7.799999999999999 18.5 Q4.8999999999999995 16.4 4.6 11.399999999999999 Z" fill="#8a5f50"/><rect x="6.299999999999999" y="9.107999999999999" width="3.0" height="1.1" rx=".5" fill="#4a2e26" opacity=".55"/><rect x="11.499999999999998" y="9.107999999999999" width="3.0" height="1.1" rx=".5" fill="#4a2e26" opacity=".55"/><rect x="9.499999999999998" y="10.607999999999999" width="1.8" height="3.2" rx=".8" fill="#b06a55" opacity=".35"/><rect x="8.2" y="14.615999999999998" width="4.4" height="1.0" rx=".5" fill="#8a3a34" opacity=".5"/></g></svg>
<div class="bar" style="top:562px;width:4.0px"></div>
<span class="t" style="top:560.00px;font-size:17.6px;line-height:23px;color:#4a5568;font-weight:700;left:695.97px;transform-origin:0 50%;transform:scaleX(0.9261);">0,19 %</span>
<span class="t" style="top:564.54px;font-size:12px;line-height:16px;color:#4a5568;left:755.51px;transform-origin:0 50%;">429 votos</span>
<span class="t" style="top:564.62px;font-size:11.2px;line-height:15px;color:#4a5568;-webkit-text-stroke:0.4px #4a5568;right:657.80px;transform-origin:100% 50%;transform:scaleX(0.9542);">André Pestana da Silva</span>
<svg style="position:absolute;left:654px;top:558px;overflow:hidden" width="20" height="26" viewBox="0 0 20 26"><rect width="20" height="26" fill="#fff"/><g filter="url(#pb)"><path d="M-1 27 L-1 28.4 Q2.5 25.4 6.3 23.6 L9.5 27 L10.7 27 L13.899999999999999 15.6 Q17.5 17.4 21 20.4 L21 27 Z" fill="#14171f"/><path d="M6.5 15.8 L13.7 15.8 L11.0 27 L9.2 27 Z" fill="#cb9676"/><rect x="7.3" y="16.7" width="5.6" height="5.8" fill="#cb9676"/><rect x="7.3" y="20.4" width="5.6" height="1.6" fill="#b06a55" opacity=".35"/><path d="M2.4 5.7 Q2.4 -0.3 10.1 -0.3 Q17.8 -0.3 17.8 5.7 L17.8 10.7 Q17.5 15.7 12.7 17.8 Q10.1 18.7 7.5 17.8 Q2.6999999999999997 15.7 2.4 10.7 Z" fill="#4a382c"/><path d="M3.0 7.300000000000001 Q3.0 3.1 10.1 3.1 Q17.2 3.1 17.2 7.300000000000001 L17.2 13.7 Q16.9 18.7 12.7 20.8 Q10.1 21.7 7.5 20.8 Q3.3 18.7 3.0 13.7 Z" fill="#cb9676"/><path d="M3.0 14.7 L4.6 16.2 Q10.1 17.4 15.6 16.2 L17.2 14.7 L17.2 13.7 Q16.9 18.7 12.7 20.8 Q10.1 21.7 7.5 20.8 Q3.3 18.7 3.0 13.7 Z" fill="#9a7658"/><rect x="6.0" y="9.616" width="3.0" height="1.1" rx=".5" fill="#4a2e26" opacity=".55"/><rect x="11.2" y="9.616" width="3.0" height="1.1" rx=".5" fill="#4a2e26" opacity=".55"/><rect x="9.2" y="11.116" width="1.8" height="3.2" rx=".8" fill="#b06a55" opacity=".35"/><rect x="7.8999999999999995" y="16.132" width="4.4" height="1.0" rx=".5" fill="#8a3a34" opacity=".5"/><path d="M3 27 L8.5 21.5 L12 23.5 L16.5 17 L21 20 L21 27 Z" fill="#14171f"/></g></svg>
<div class="bar" style="top:603px;width:3.3px"></div>
<span class="t" style="top:601.00px;font-size:17.6px;line-height:23px;color:#4a5568;font-weight:700;left:695.29px;transform-origin:0 50%;transform:scaleX(0.9261);">0,07 %</span>
<span class="t" style="top:605.54px;font-size:12px;line-height:16px;color:#4a5568;left:754.83px;transform-origin:0 50%;">152 votos</span>
<span class="t" style="top:605.62px;font-size:11.2px;line-height:15px;color:#4a5568;-webkit-text-stroke:0.4px #4a5568;right:657.80px;transform-origin:100% 50%;transform:scaleX(0.9751);">Humberto Correia</span>
<svg style="position:absolute;left:654px;top:599px;overflow:hidden" width="20" height="26" viewBox="0 0 20 26"><rect width="20" height="26" fill="#fff"/><g filter="url(#pb)"><path d="M-1 27 L-1 24.2 Q2.5 21.2 6.500000000000001 19.400000000000002 L9.700000000000001 27 L10.9 27 L14.100000000000001 17.0 Q17.5 18.799999999999997 21 21.799999999999997 L21 27 Z" fill="#2b3f8c"/><path d="M6.700000000000001 17.2 L13.9 17.2 L11.200000000000001 27 L9.4 27 Z" fill="#23294a"/><rect x="7.500000000000001" y="15.5" width="5.6" height="5.8" fill="#e89d8d"/><rect x="7.500000000000001" y="19.2" width="5.6" height="1.6" fill="#b06a55" opacity=".35"/><path d="M3.6 7.4 Q3.6 1.4 10.5 1.4 Q17.4 1.4 17.4 7.4 L17.4 9.5 Q17.099999999999998 14.5 13.1 16.6 Q10.5 17.5 7.9 16.6 Q3.9 14.5 3.6 9.5 Z" fill="#7d6a5e"/><path d="M3.8 8.2 Q3.8 4.0 10.3 4.0 Q16.8 4.0 16.8 8.2 L16.8 12.5 Q16.5 17.5 12.9 19.6 Q10.3 20.5 7.700000000000001 19.6 Q4.1 17.5 3.8 12.5 Z" fill="#e89d8d"/><rect x="6.200000000000001" y="9.76" width="3.0" height="1.1" rx=".5" fill="#4a2e26" opacity=".55"/><rect x="11.4" y="9.76" width="3.0" height="1.1" rx=".5" fill="#4a2e26" opacity=".55"/><rect x="9.4" y="11.26" width="1.8" height="3.2" rx=".8" fill="#b06a55" opacity=".35"/><rect x="8.100000000000001" y="15.52" width="4.4" height="1.0" rx=".5" fill="#8a3a34" opacity=".5"/></g></svg>
<div class="bar" style="top:685px;width:8.8px"></div>
<span class="t" style="top:683.00px;font-size:17.6px;line-height:23px;color:#4a5568;font-weight:700;left:700.84px;transform-origin:0 50%;transform:scaleX(0.9261);">1,06 %</span>
<span class="t" style="top:687.54px;font-size:12px;line-height:16px;color:#4a5568;left:760.39px;transform-origin:0 50%;transform:scaleX(0.9959);">2.487 votos</span>
<span class="t" style="top:687.92px;font-size:11.2px;line-height:15px;color:#4a5568;-webkit-text-stroke:0.45px #4a5568;right:627.60px;transform-origin:100% 50%;transform:scaleX(0.9140);">EM BRANCO</span>
<div class="bar" style="top:726px;width:9.1px"></div>
<span class="t" style="top:724.00px;font-size:17.6px;line-height:23px;color:#4a5568;font-weight:700;left:701.07px;transform-origin:0 50%;transform:scaleX(0.9261);">1,10 %</span>
<span class="t" style="top:728.54px;font-size:12px;line-height:16px;color:#4a5568;left:760.61px;transform-origin:0 50%;transform:scaleX(0.9959);">2.599 votos</span>
<span class="t" style="top:728.92px;font-size:11.2px;line-height:15px;color:#4a5568;-webkit-text-stroke:0.45px #4a5568;right:627.60px;transform-origin:100% 50%;transform:scaleX(0.9070);">NULOS</span>
</body></html>
